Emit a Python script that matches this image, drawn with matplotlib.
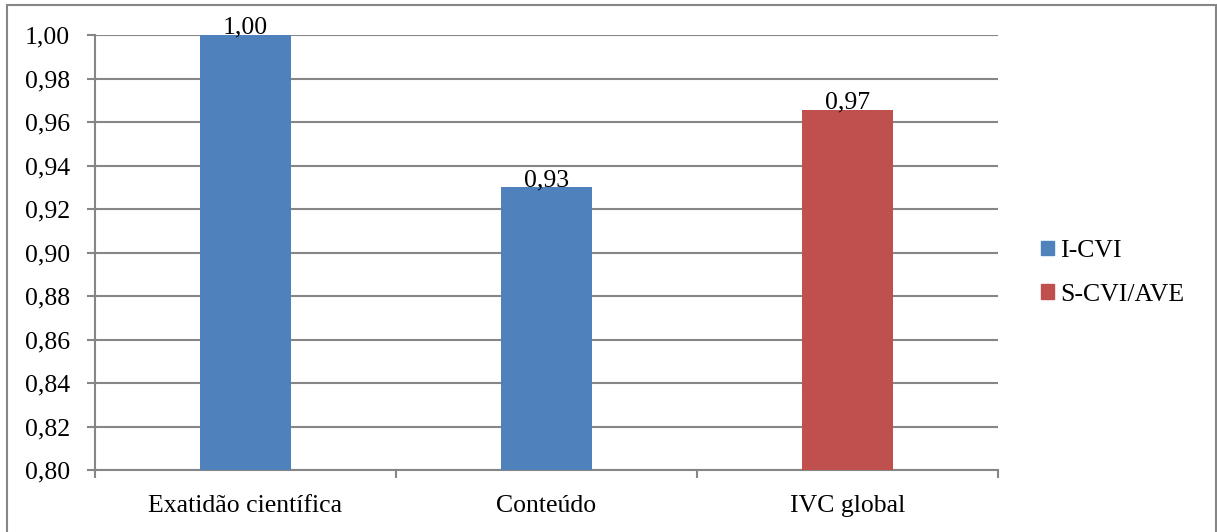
import matplotlib.pyplot as plt
import matplotlib.patches as mpatches
from matplotlib.ticker import FuncFormatter

# données
categorias = ['Exatidão científica', 'Conteúdo', 'IVC global']
valores = [1.00, 0.93, 0.9655]
series = ['I-CVI', 'I-CVI', 'S-CVI/AVE']
cores = {'I-CVI': '#4F81BD', 'S-CVI/AVE': '#C0504D'}
yticks = [0.80, 0.82, 0.84, 0.86, 0.88, 0.90, 0.92, 0.94, 0.96, 0.98, 1.00]

plt.rcParams['font.family'] = ['Liberation Serif', 'DejaVu Serif']
plt.rcParams['font.size'] = 18.5
cinza = '#868686'

fig = plt.figure(figsize=(12.17, 5.32), dpi=100)
ax = fig.add_axes([95/1217, 1-470/532, (998-95)/1217, (470-35)/532])

# moldura do gráfico
fig.patches.append(mpatches.Rectangle((7/1217, -0.05), (1216-7)/1217, 1.05-5/532,
                                      transform=fig.transFigure, fill=False,
                                      edgecolor=cinza, linewidth=1.5))

x = range(len(categorias))
ax.bar(x, valores, width=0.30, color=[cores[s] for s in series], zorder=3)
for xi, v in zip(x, valores):
    ax.text(xi, v + 0.0005, f'{v:.2f}'.replace('.', ','), ha='center', va='baseline', zorder=4)

ax.set_ylim(0.80, 1.00)
ax.set_xlim(-0.5, 2.5)
ax.set_yticks(yticks)
ax.yaxis.set_major_formatter(FuncFormatter(lambda v, p: f'{v:.2f}'.replace('.', ',')))
ax.grid(axis='y', color=cinza, linewidth=1.5, zorder=0)
ax.tick_params(axis='y', length=6, width=1.5, color=cinza, pad=12)

ax.set_xticks(list(x))
ax.set_xticklabels(categorias)
ax.set_xticks([-0.5, 0.5, 1.5, 2.5], minor=True)
ax.tick_params(axis='x', which='major', length=0, pad=18)
ax.tick_params(axis='x', which='minor', length=6, width=1.5, color=cinza)

for s in ['top', 'right']:
    ax.spines[s].set_visible(False)
for s in ['left', 'bottom']:
    ax.spines[s].set_color(cinza)
    ax.spines[s].set_linewidth(1.5)

# legenda
handles = [mpatches.Patch(color=cores[k], label=k) for k in ['I-CVI', 'S-CVI/AVE']]
fig.legend(handles=handles, loc='center left', bbox_to_anchor=(1018/1217, 1-273/532),
           frameon=False, handlelength=0.5, handleheight=0.5, handletextpad=0.25,
           labelspacing=0.85)

fig.savefig('out.png', dpi=100)
